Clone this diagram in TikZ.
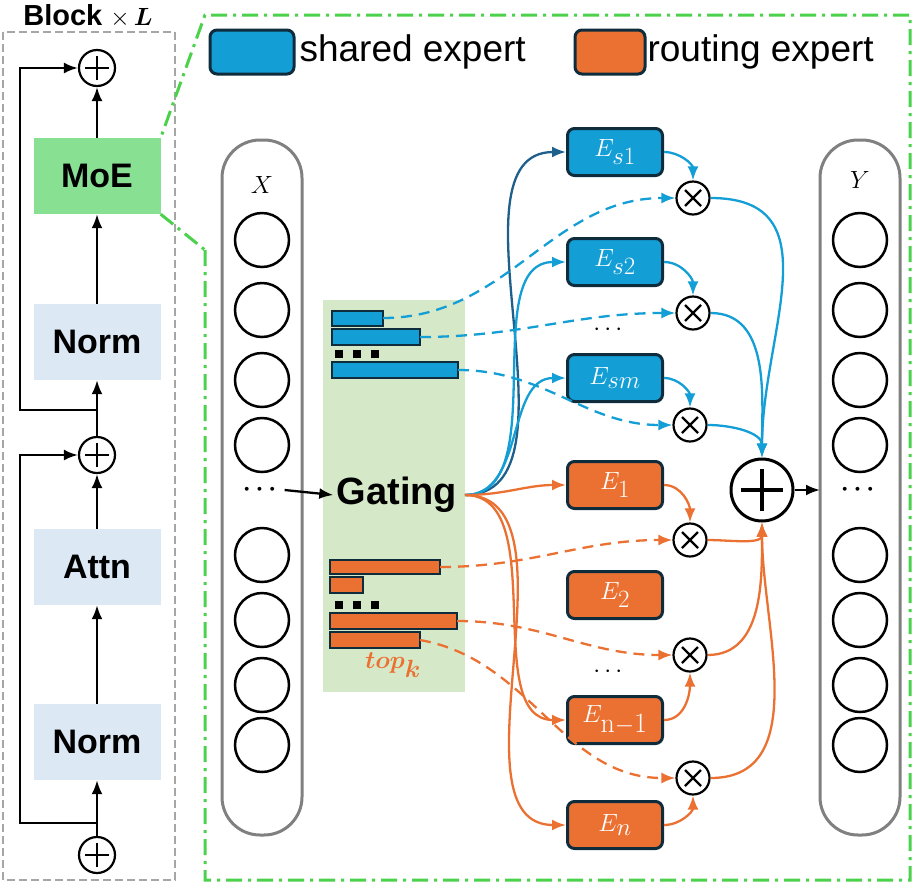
\documentclass[tikz,border=0pt]{standalone}
\usepackage{amsmath}
\usepackage{bm}
\usepackage{fontspec}
\setsansfont{Liberation Sans}
\usetikzlibrary{arrows.meta}
\definecolor{sb}{HTML}{139ED5}
\definecolor{sbd}{HTML}{1F5F8B}
\definecolor{ro}{HTML}{EB7133}
\definecolor{edk}{HTML}{0F2C3C}
\definecolor{moe}{HTML}{88E093}
\definecolor{nrm}{HTML}{DDE8F5}
\definecolor{gat}{HTML}{D5E8C8}
\definecolor{gdash}{HTML}{4CD14C}
\begin{document}
\begin{tikzpicture}[x=1pt,y=-1pt,
  blk/.style={fill=#1,draw=none,minimum width=127pt,minimum height=76pt,font=\sffamily\bfseries\fontsize{34}{36}\selectfont},
  opl/.style={circle,draw,line width=2.2pt,minimum size=36pt,inner sep=0pt,path picture={\draw[line width=2.2pt] ([xshift=-12pt]path picture bounding box.center)--([xshift=12pt]path picture bounding box.center) ([yshift=-12pt]path picture bounding box.center)--([yshift=12pt]path picture bounding box.center);}},
  otm/.style={circle,draw,line width=2.2pt,minimum size=33pt,inner sep=0pt,path picture={\draw[line width=2.2pt] ([shift={(-8pt,-8pt)}]path picture bounding box.center)--([shift={(8pt,8pt)}]path picture bounding box.center) ([shift={(-8pt,8pt)}]path picture bounding box.center)--([shift={(8pt,-8pt)}]path picture bounding box.center);}},
  tok/.style={circle,draw,line width=2.5pt,minimum size=54pt,inner sep=0pt},
  exp/.style={draw=edk,line width=3pt,rounded corners=7pt,fill=#1,minimum width=95pt,minimum height=47pt,text=white,font=\fontsize{40}{42}\selectfont},
  bar/.style={draw=edk,line width=1.3pt,fill=#1},
  ar/.style={line width=2.3pt,-{Latex[length=14pt,width=11pt]}},
  sa/.style={ar,draw=sb},
  oa/.style={ar,draw=ro},
  sd/.style={sa,dash pattern=on 11pt off 7pt},
  od/.style={oa,dash pattern=on 11pt off 7pt},
  bk/.style={line width=2.3pt,-{Latex[length=14pt,width=11pt]}},
  lbl/.style={font=\sffamily\fontsize{37}{40}\selectfont}]
\useasboundingbox (0,0) rectangle (913,887);
% left block
\draw[gray!70,line width=2.5pt,dash pattern=on 8pt off 4pt] (3,32) rectangle (175,880);
\node[font=\sffamily\bfseries\fontsize{29}{30}\selectfont] (bt) at (88,16) {Block $\times\,\bm{L}$};
\node[opl] (p1) at (97,68) {};
\node[opl] (p2) at (97,455) {};
\node[opl] (p3) at (97,855) {};
\node[blk=moe] (moe) at (97,176) {MoE};
\node[blk=nrm] (n1) at (97,342) {Norm};
\node[blk=nrm] (at) at (97,567) {Attn};
\node[blk=nrm] (n2) at (97,742) {Norm};
\draw[bk] (p3) -- (n2);
\draw[bk] (n2) -- (at);
\draw[bk] (at) -- (p2);
\draw[bk] (p2) -- (n1);
\draw[bk] (n1) -- (moe);
\draw[bk] (moe) -- (p1);
\coordinate (c1) at (97,410);
\coordinate (c2) at (97,823);
\draw[bk] (c1) -- (20,410) -- (20,68) -- (p1);
\draw[bk] (c2) -- (20,823) -- (20,455) -- (p2);
% green frame
\draw[gdash,line width=3pt,dash pattern=on 16pt off 6pt on 3pt off 6pt] (205,250) -- (205,880) -- (910,880) -- (910,15) -- (205,15) -- (moe.north east) (moe.south east) -- (205,250);
% legend
\node[exp=sb,minimum width=84pt,minimum height=44pt] (l1) at (252,52) {};
\node[lbl,anchor=west] (l1t) at (296,52) {shared expert};
\node[exp=ro,minimum width=70pt,minimum height=44pt] (l2) at (610,52) {};
\node[lbl,anchor=west] (l2t) at (644,52) {routing expert};
% columns
\draw[gray,line width=3pt,rounded corners=38pt] (222,140) rectangle (302,835);
\draw[gray,line width=3pt,rounded corners=38pt] (820,140) rectangle (900,835);
\node[font=\fontsize{36}{38}\selectfont] (xl) at (262,185) {$X$};
\node[font=\fontsize{36}{38}\selectfont] (yl) at (860,180) {$Y$};
\foreach \y [count=\i] in {240,310,380,445,555,620,685,745} {
  \node[tok] (x\i) at (262,\y) {};
  \node[tok] (y\i) at (860,\y) {};
}
\node[font=\bfseries\fontsize{44}{44}\selectfont] (xd) at (262,490) {$\bm{\cdots}$};
\node[font=\bfseries\fontsize{44}{44}\selectfont] (yd) at (860,490) {$\bm{\cdots}$};
% gating
\fill[gat] (323,300) rectangle (465,692);
\node[font=\sffamily\bfseries\fontsize{38}{40}\selectfont] (g) at (397,495) {Gating};
\coordinate (go) at (465,495);
\draw[bk] (xd.east) -- (g.west);
\draw[bar=sb] (332,311) rectangle (383,326); \coordinate (b1) at (383,318);
\draw[bar=sb] (332,329) rectangle (420,345); \coordinate (b2) at (420,337);
\draw[bar=sb] (332,362) rectangle (458,378); \coordinate (b3) at (458,370);
\draw[bar=ro] (330,560) rectangle (440,574); \coordinate (r1) at (440,567);
\draw[bar=ro] (330,577) rectangle (363,593);
\draw[bar=ro] (330,613) rectangle (457,629); \coordinate (r3) at (457,621);
\draw[bar=ro] (330,632) rectangle (420,648); \coordinate (r4) at (420,640);
\foreach \x in {335,353,371} {\fill (\x,350) rectangle +(8,8); \fill (\x,601) rectangle +(8,8);}
\node[text=ro,font=\fontsize{34}{36}\selectfont] (tk) at (393,665) {$\bm{top_k}$};
% experts
\node[exp=sb] (es1) at (615,152) {$E_{s1}$};
\node[exp=sb] (es2) at (615,262) {$E_{s2}$};
\node[exp=sb] (esm) at (615,378) {$E_{sm}$};
\node[exp=ro] (e1) at (615,485) {$E_{1}$};
\node[exp=ro] (e2) at (615,595) {$E_{2}$};
\node[exp=ro] (en1) at (615,720) {$E_{\mathrm{n-1}}$};
\node[exp=ro] (en) at (615,825) {$E_{n}$};
\node[font=\fontsize{28}{28}\selectfont] (d1) at (610,330) {$\cdots$};
\node[font=\fontsize{28}{28}\selectfont] (d2) at (610,672) {$\cdots$};
\node[otm] (o1) at (693,198) {};
\node[otm] (o2) at (693,313) {};
\node[otm] (o3) at (690,425) {};
\node[otm] (o4) at (690,540) {};
\node[otm] (o5) at (690,655) {};
\node[otm] (o6) at (693,778) {};
\node[opl,minimum size=62pt,line width=3pt,path picture={\draw[line width=3.5pt] ([xshift=-21pt]path picture bounding box.center)--([xshift=21pt]path picture bounding box.center) ([yshift=-21pt]path picture bounding box.center)--([yshift=21pt]path picture bounding box.center);}] (big) at (762,490) {};
\draw[bk] (big) -- (820,490);
% gating to experts
\draw[ar,draw=sbd] (go) to[out=0,in=180,looseness=0.9] (es1.west);
\draw[sa] (go) to[out=0,in=180,looseness=0.9] (es2.west);
\draw[sa] (go) to[out=0,in=180] (esm.west);
\draw[oa] (go) to[out=0,in=180] (e1.west);
\draw[oa] (go) to[out=0,in=180,looseness=0.9] (en1.west);
\draw[oa] (go) to[out=0,in=180,looseness=0.9] (en.west);
% bars to otimes
\draw[sd] (b1) to[out=0,in=180] (o1.west);
\draw[sd] (b2) to[out=0,in=180] (o2.west);
\draw[sd] (b3) to[out=0,in=180] (o3.west);
\draw[od] (r1) to[out=0,in=180] (o4.west);
\draw[od] (r3) to[out=0,in=180] (o5.west);
\draw[od] (r4) to[out=-10,in=180] (o6.west);
% experts to otimes
\draw[sa] (es1.east) to[out=0,in=90] (o1.north);
\draw[sa] (es2.east) to[out=0,in=90] (o2.north);
\draw[sa] (esm.east) to[out=0,in=90] (o3.north);
\draw[oa] (e1.east) to[out=0,in=90] (o4.north);
\draw[oa] (en1.east) to[out=0,in=-90] (o5.south);
\draw[oa] (en.east) to[out=0,in=-90] (o6.south);
% otimes to sum
\draw[sa] (o1.east) to[out=0,in=90,looseness=1.2] (big.north);
\draw[sa] (o2.east) to[out=0,in=90] (big.north);
\draw[sa] (o3.east) to[out=0,in=90] (big.north);
\draw[oa] (o4.east) to[out=0,in=-90] (big.south);
\draw[oa] (o5.east) to[out=0,in=-90] (big.south);
\draw[oa] (o6.east) to[out=0,in=-90] (big.south);
\end{tikzpicture}
\end{document}
